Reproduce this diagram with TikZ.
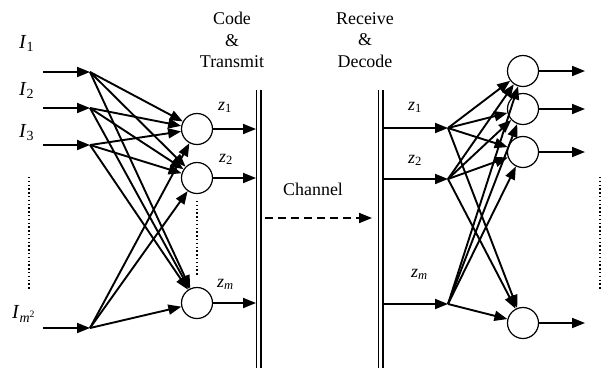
\documentclass[tikz,border=0pt]{standalone}
\usepackage{fontspec}
\setmainfont{Liberation Serif}
\usetikzlibrary{arrows.meta}
\begin{document}
\begin{tikzpicture}[x=1bp,y=-1bp,
  every node/.style={font=\fontsize{18}{21.5}\selectfont, inner sep=0pt},
  neuron/.style={draw, circle, minimum size=31bp, inner sep=0pt, line width=1.2bp},
  arr/.style={line width=1.9bp, -{Triangle[length=13bp,width=10bp]}},
  bar/.style={double, double distance=3.6bp, line width=1.2bp},
  dots/.style={line width=1.6bp, dash pattern=on 1.4bp off 2.4bp},
  lab/.style={anchor=base west},
  ilab/.style={anchor=base west, font=\fontsize{20}{24}\selectfont}]
\useasboundingbox (0,0) rectangle (610,368);

% inputs
\coordinate (s1) at (43,72);  \coordinate (i1) at (90,72);
\coordinate (s2) at (43,108); \coordinate (i2) at (90,108);
\coordinate (s3) at (43,145); \coordinate (i3) at (90,145);
\coordinate (s4) at (43,328); \coordinate (i4) at (90,328);
\foreach \k in {1,2,3,4} \draw[arr] (s\k) -- (i\k);

\node[ilab] (l1) at (19,48) {\textit{I}\textsubscript{1}};
\node[ilab] (l2) at (19,95) {\textit{I}\textsubscript{2}};
\node[ilab] (l3) at (19,137) {\textit{I}\textsubscript{3}};
\node[ilab] (l4) at (12,318) {\textit{I}\textsubscript{\textit{m}\textsuperscript{2}}};
\coordinate (d1a) at (29,177); \coordinate (d1b) at (29,290);
\draw[dots] (d1a) -- (d1b);

% hidden layer
\node[neuron] (h1) at (197,129) {};
\node[neuron] (h2) at (197,178) {};
\node[neuron] (h3) at (197,303) {};
\coordinate (d2a) at (197,201); \coordinate (d2b) at (197,277);
\draw[dots] (d2a) -- (d2b);
\foreach \i in {i1,i2,i3,i4}
  \foreach \h in {h1,h2,h3}
    \draw[arr] (\i) -- (\h);

% transmit bar
\coordinate (bLt) at (258.5,90); \coordinate (bLb) at (258.5,368);
\draw[bar] (bLt) -- (bLb);
\coordinate (t1) at (256,129);
\coordinate (t2) at (256,178);
\coordinate (t3) at (256,303);
\draw[arr] (h1) -- (t1);
\draw[arr] (h2) -- (t2);
\draw[arr] (h3) -- (t3);
\node[lab] (z1) at (218,110) {\textit{z}\textsubscript{1}};
\node[lab] (z2) at (219,162) {\textit{z}\textsubscript{2}};
\node[lab] (z3) at (217,287) {\textit{z}\textsubscript{\textit{m}}};
\node[align=center] (code) at (232,40) {Code\\\&\\Transmit};

% channel
\coordinate (c1) at (265,218); \coordinate (c2) at (372,218);
\draw[line width=1.9bp, dash pattern=on 8bp off 5bp, -{Triangle[length=13bp,width=10bp]}] (c1) -- (c2);
\node[lab] (ch) at (283,195) {Channel};

% receive bar
\coordinate (bRt) at (380.5,90); \coordinate (bRb) at (380.5,368);
\draw[bar] (bRt) -- (bRb);
\node[align=center] (rec) at (365,40) {Receive\\\&\\Decode};
\coordinate (u1) at (382,128); \coordinate (r1) at (448,128);
\coordinate (u2) at (382,179); \coordinate (r2) at (448,179);
\coordinate (u3) at (382,304); \coordinate (r3) at (448,304);
\foreach \k in {1,2,3} \draw[arr] (u\k) -- (r\k);
\node[lab] (y1) at (408,110) {\textit{z}\textsubscript{1}};
\node[lab] (y2) at (408,163) {\textit{z}\textsubscript{2}};
\node[lab] (y3) at (411,277) {\textit{z}\textsubscript{\textit{m}}};

% output layer
\node[neuron] (o1) at (523,71) {};
\node[neuron] (o2) at (523,109) {};
\node[neuron] (o3) at (523,152) {};
\node[neuron] (o4) at (523,323) {};
\foreach \r in {r1,r2,r3}
  \foreach \o in {o1,o2,o3,o4}
    \draw[arr] (\r) -- (\o);
\coordinate (e1) at (585,71);
\coordinate (e2) at (585,109);
\coordinate (e3) at (585,152);
\coordinate (e4) at (585,323);
\foreach \k in {1,2,3,4} \draw[arr] (o\k) -- (e\k);
\coordinate (d3a) at (600,177); \coordinate (d3b) at (600,290);
\draw[dots] (d3a) -- (d3b);
\end{tikzpicture}
\end{document}
